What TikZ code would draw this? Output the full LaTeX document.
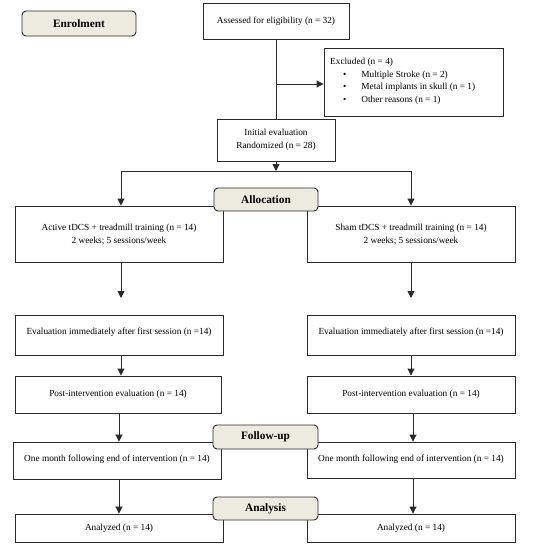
\documentclass[tikz,border=0pt]{standalone}
\usepackage{fontspec}
\setmainfont{Liberation Serif}
\usetikzlibrary{arrows.meta,positioning}
\definecolor{lbl}{HTML}{EDEBE0}
\definecolor{ln}{HTML}{2A2A2A}
\begin{document}
\begin{tikzpicture}[x=1pt,y=-1pt,
  box/.style={draw=ln,line width=0.9pt,fill=white,inner sep=0pt,align=center,font=\fontsize{9.3}{13}\selectfont},
  txt/.style={anchor=west,inner sep=0pt,font=\fontsize{9.3}{13}\selectfont},
  phase/.style={draw=ln,line width=0.9pt,fill=lbl,rounded corners=4pt,inner sep=0pt,font=\fontsize{11.3}{13}\selectfont\bfseries},
  arr/.style={draw=ln,line width=0.9pt,-{Triangle[length=7pt,width=7pt]}},
  ln/.style={draw=ln,line width=0.9pt}]
\useasboundingbox (0,0) rectangle (546,550);
% enrolment
\node[phase,minimum width=114pt,minimum height=25pt] (enrol) at (79,23.5) {Enrolment};
\node[box,minimum width=146pt,minimum height=36pt] (ass) at (276,21) {Assessed for eligibility (n = 32)};
\node[box,minimum width=179pt,minimum height=68pt] (excl) at (413.5,82) {};
\node[txt] (exclt) at (330,62) {Excluded (n = 4)};
\node[txt] (ex1) at (343,75) {\textbullet\hspace{15pt}Multiple Stroke (n = 2)};
\node[txt] (ex2) at (343,87.5) {\textbullet\hspace{15pt}Metal implants in skull (n = 1)};
\node[txt] (ex3) at (343,100) {\textbullet\hspace{15pt}Other reasons (n = 1)};
\node[box,minimum width=118pt,minimum height=42pt] (init) at (276,140) {Initial evaluation\\Randomized (n = 28)};
\draw[ln] (ass.south) -- (init.north);
\coordinate (exclfrom) at (276,84);
\draw[arr] (exclfrom) -- (exclfrom -| excl.west);
% allocation
\node[box,minimum width=208pt,minimum height=56pt] (act) at (119,234) {Active tDCS + treadmill training (n = 14)\\2 weeks; 5 sessions/week};
\node[box,minimum width=208pt,minimum height=56pt] (sham) at (411,234) {Sham tDCS + treadmill training (n = 14)\\2 weeks; 5 sessions/week};
\coordinate (split) at (276,171);
\coordinate (sl) at (121,171);
\coordinate (sr) at (411,171);
\draw[arr] (init.south) -- (split);
\draw[ln] (sl) -- (sr);
\draw[arr] (sl) -- (sl |- act.north);
\draw[arr] (sr) -- (sr |- sham.north);
\node[phase,minimum width=104pt,minimum height=23pt] (alloc) at (266,199.5) {Allocation};
% evaluation
\node[box,minimum width=208pt,minimum height=40pt] (ev1) at (119,335) {\raisebox{7pt}{Evaluation immediately after first session (n =14)}};
\node[box,minimum width=208pt,minimum height=40pt] (ev2) at (411,335) {\raisebox{7pt}{Evaluation immediately after first session (n =14)}};
\coordinate (e1) at (121,298);
\coordinate (e2) at (411,298);
\draw[arr] (act.south -| e1) -- (e1);
\draw[arr] (sham.south -| e2) -- (e2);
\node[box,minimum width=206pt,minimum height=37pt] (po1) at (118,394.5) {\raisebox{3pt}{Post-intervention evaluation (n = 14)}};
\node[box,minimum width=208pt,minimum height=37pt] (po2) at (411,394.5) {\raisebox{3pt}{Post-intervention evaluation (n = 14)}};
\draw[arr] (ev1.south -| e1) -- (po1.north -| e1);
\draw[arr] (ev2.south -| e2) -- (po2.north -| e2);
% follow-up
\node[box,minimum width=208pt,minimum height=37pt] (fu1) at (117,460.5) {\raisebox{4pt}{One month following end of intervention (n = 14)}};
\node[box,minimum width=208pt,minimum height=36pt] (fu2) at (411,460) {\raisebox{4pt}{One month following end of intervention (n = 14)}};
\coordinate (f1) at (119,0);
\coordinate (f2) at (413,0);
\draw[arr] (po1.south -| f1) -- (fu1.north -| f1);
\draw[arr] (po2.south -| f2) -- (fu2.north -| f2);
\node[phase,minimum width=105pt,minimum height=24pt] (follow) at (265.5,437) {Follow-up};
% analysis
\node[box,minimum width=208pt,minimum height=28pt] (an1) at (119,528) {Analyzed (n = 14)};
\node[box,minimum width=208pt,minimum height=28pt] (an2) at (411,528) {Analyzed (n = 14)};
\draw[arr] (fu1.south -| f1) -- (an1.north -| f1);
\draw[arr] (fu2.south -| f2) -- (an2.north -| f2);
\node[phase,minimum width=105pt,minimum height=23pt] (anal) at (265.5,508.5) {Analysis};
\end{tikzpicture}
\end{document}
